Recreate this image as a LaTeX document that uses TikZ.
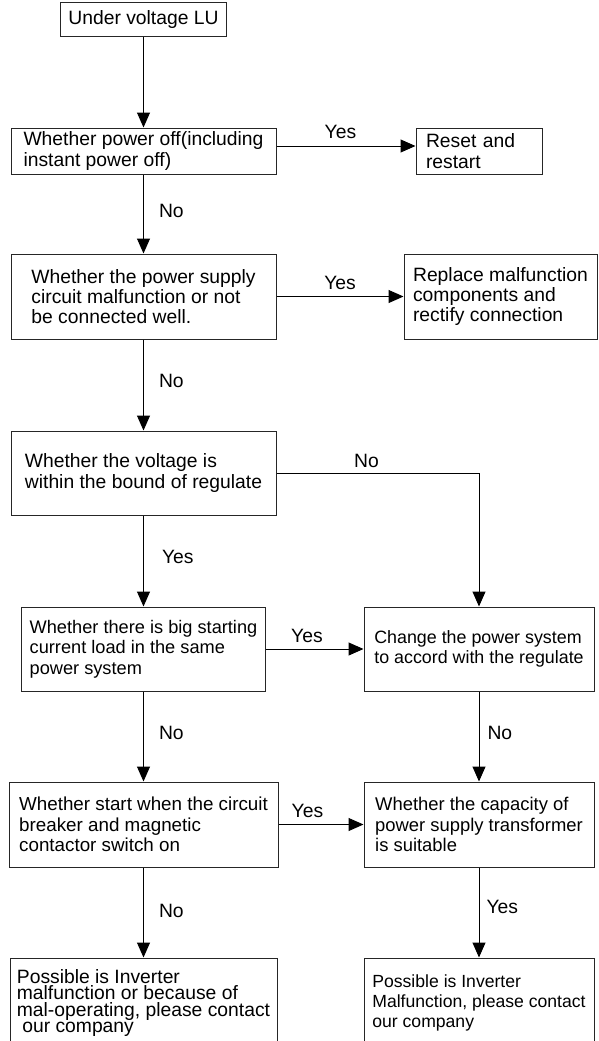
\documentclass[tikz,border=0pt]{standalone}
\usepackage{fontspec}
\setmainfont{Liberation Sans}
\usetikzlibrary{arrows.meta}

\begin{document}
\begin{tikzpicture}[x=1pt,y=-1pt,
    stage/.style={draw=black!85, line width=1pt, rectangle, align=left, font=\fontsize{#1}{20.3}\selectfont},
    stage/.default=19.3,
    flow/.style={line width=1pt, -{Triangle[length=15pt,width=13pt]}},
    answer/.style={inner sep=0pt, font=\fontsize{19.3}{20.3}\selectfont}]
    \useasboundingbox (0,0) rectangle (598,1041);
    \clip (0,0) rectangle (598,1041);
    % left column
    \node[stage, minimum width=166, minimum height=34] (lu) at (143.5,20) {Under voltage LU};
    \node[stage, minimum width=265, minimum height=46] (off) at (143.5,151) {Whether power off(including\\instant power off)};
    \node[stage, minimum width=265, minimum height=85] (supply) at (143.5,296.5) {Whether the power supply\\circuit malfunction or not\\be connected well.};
    \node[stage, minimum width=265, minimum height=84] (range) at (143.5,473) {Whether the voltage is\\within the bound of regulate};
    \node[stage=18.2, minimum width=244, minimum height=84] (surge) at (143.5,649) {Whether there is big starting\\current load in the same\\power system};
    \node[stage=18.8, minimum width=269, minimum height=85] (breaker) at (143.5,824.5) {Whether start when the circuit\\breaker and magnetic\\contactor switch on};
    \node[stage, minimum width=267, minimum height=90, font=\fontsize{19.3}{16.6}\selectfont] (fault1) at (143.5,1003) {Possible is Inverter\\malfunction or because of\\mal-operating, please contact\\\hspace*{0.28em}our company};
    % right column
    \node[stage, text width=106, inner xsep=10, minimum height=46] (reset) at (479,151) {Reset and\\restart};
    \node[stage, minimum width=193, minimum height=85] (replace) at (500.5,296.5) {Replace malfunction\\components and\\rectify connection};
    \node[stage=17.85, minimum width=230, minimum height=84] (change) at (479,649) {Change the power system\\to accord with the regulate};
    \node[stage=18.4, minimum width=230, minimum height=85] (capacity) at (479,824.5) {Whether the capacity of\\power supply transformer\\is suitable};
    \node[stage=17.6, minimum width=230, minimum height=90] (fault2) at (479,1003) {Possible is Inverter\\Malfunction, please contact\\our company};

    \draw[flow] (lu) -- (off);
    \draw[flow] ([yshift=5pt]off.east) -- node[answer, above=7pt, pos=0.46] {Yes} ([yshift=5pt]reset.west);
    \draw[flow] (off) -- node[answer, right=15pt, pos=0.46] {No} (supply);
    \draw[flow] (supply) -- node[answer, above=6pt, pos=0.5] {Yes} (replace);
    \draw[flow] (supply) -- node[answer, right=15pt, pos=0.46] {No} (range);
    \draw[flow] (range.east) -| node[answer, above=5pt, pos=0.222] {No} (change.north);
    \draw[flow] (range) -- node[answer, right=18pt, pos=0.46] {Yes} (surge);
    \draw[flow] (surge) -- node[answer, above=6pt, pos=0.42] {Yes} (change);
    \draw[flow] (surge) -- node[answer, right=15pt, pos=0.46] {No} (breaker);
    \draw[flow] (change) -- node[answer, right=8pt, pos=0.46] {No} (capacity);
    \draw[flow] (breaker) -- node[answer, above=6pt, pos=0.34] {Yes} (capacity);
    \draw[flow] (breaker) -- node[answer, right=15pt, pos=0.48] {No} (fault1);
    \draw[flow] (capacity) -- node[answer, right=7pt, pos=0.44] {Yes} (fault2);
\end{tikzpicture}
\end{document}
